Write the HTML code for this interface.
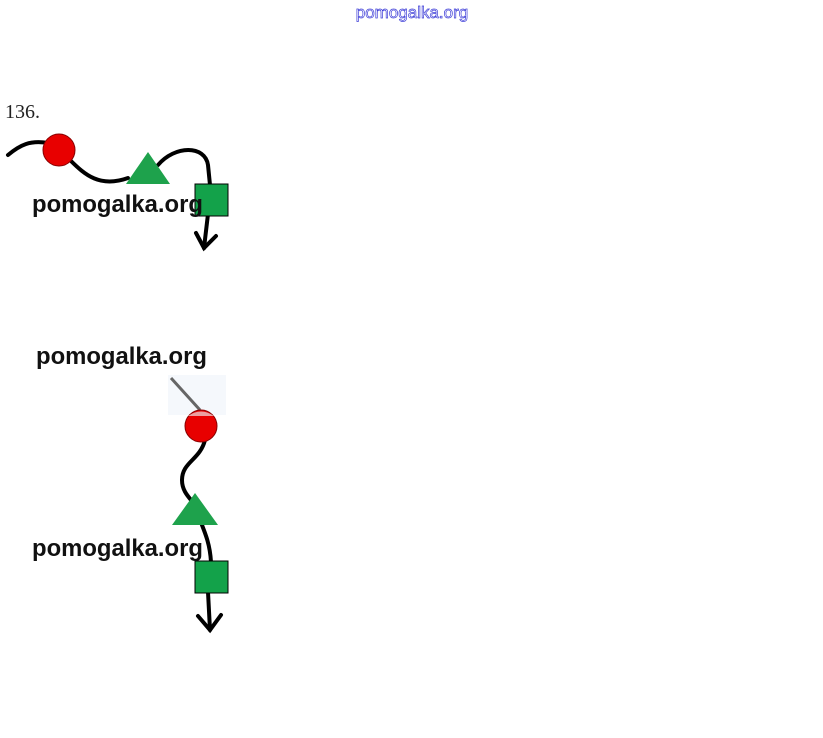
<!DOCTYPE html>
<html><head><style>body{margin:0;background:#fff}svg{display:block}</style></head><body>
<svg width="823" height="738" xmlns="http://www.w3.org/2000/svg">
<text x="412" y="18" text-anchor="middle" font-family="Liberation Sans, sans-serif" font-size="17" fill="#fff" stroke="#4040d8" stroke-width="0.7">pomogalka.org</text>
<text x="5" y="118" font-family="Liberation Serif, serif" font-size="20" fill="#222">136.</text>
<g fill="none" stroke="#000" stroke-width="4" stroke-linecap="round">
<path d="M8,155 C20,145 30,140 48,143"/>
<path d="M70,160 C85,175 100,188 128,178"/>
<path d="M158,165 C175,145 205,145 208,165 L210,185"/>
<path d="M208,214 L204,248"/>
<path d="M196,233 L204,248 L216,236"/>
<path d="M205,440 C200,460 182,462 182,480 C182,492 190,498 195,505"/>
<path d="M200,520 C206,535 210,545 211,562"/>
<path d="M208,592 L210,630"/>
<path d="M198,616 L210,630 L221,615"/>
</g>
<circle cx="59" cy="150" r="16" fill="#e80000" stroke="#800" stroke-width="1"/>
<polygon points="126,184 148,152 170,184" fill="#1ea24c"/>
<rect x="195" y="184" width="33" height="32" fill="#13a24a" stroke="#000" stroke-width="1"/>
<rect x="168" y="375" width="58" height="40" fill="#f5f8fc"/>
<line x1="171" y1="378" x2="200" y2="410" stroke="#666" stroke-width="3"/>
<circle cx="201" cy="426" r="16" fill="#e80000" stroke="#800" stroke-width="1"/>
<path d="M188,416 Q201,407 214,416" fill="#eba0a0"/>
<polygon points="172,525 195,493 218,525" fill="#1ea24c"/>
<rect x="195" y="561" width="33" height="32" fill="#13a24a" stroke="#000" stroke-width="1"/>
<g font-family="Liberation Sans, sans-serif" font-size="24" font-weight="bold" fill="#111">
<text x="32" y="212" textLength="171" lengthAdjust="spacingAndGlyphs">pomogalka.org</text>
<text x="36" y="364" textLength="171" lengthAdjust="spacingAndGlyphs">pomogalka.org</text>
<text x="32" y="556" textLength="171" lengthAdjust="spacingAndGlyphs">pomogalka.org</text>
</g>
</svg>
</body></html>
